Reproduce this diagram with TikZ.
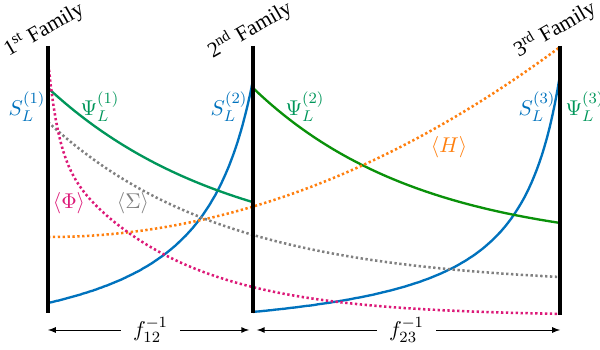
\documentclass[tikz,border=0pt]{standalone}
\usepackage{amsmath}
\usepackage{fontspec}
\setmainfont{Liberation Serif}
\usetikzlibrary{calc}

\definecolor{sblue}{RGB}{0,114,189}
\definecolor{psigreen}{RGB}{0,150,90}
\definecolor{psidark}{RGB}{10,145,10}
\definecolor{horange}{RGB}{255,127,14}
\definecolor{phimag}{RGB}{220,25,120}
\definecolor{siggray}{RGB}{128,128,128}

\tikzset{
	family/.style={line width=2pt, black},
	curve/.style={line width=1.2pt, samples=120},
	dotcurve/.style={line width=1.3pt, samples=200, dash pattern=on 1.2pt off 1.3pt},
	famlabel/.style={rotate=30, anchor=base, inner sep=0pt}
}

\begin{document}
\begin{tikzpicture}[x=0.018cm, y=-0.018cm, every node/.style={font=\fontsize{11}{13}\selectfont}]
		% Page size as in the reference
		\useasboundingbox (0,0) rectangle (600,350);
		
		% Positions of the three families
		\def\famA{48}
		\def\famB{253}
		\def\famC{560}
		
		\coordinate (F1top) at (\famA,46);
		\coordinate (F1bot) at (\famA,313);
		\coordinate (F2top) at (\famB,46);
		\coordinate (F2bot) at (\famB,313);
		\coordinate (F3top) at (\famC,46);
		\coordinate (F3bot) at (\famC,315);
		
		% Draw the blue S_L curves
		\draw[curve, sblue, domain=0:205] plot ({\famA+\x}, {303-15560*(1/(260-\x)-1/260)});
		\draw[curve, sblue, domain=0:307] plot ({\famB+\x}, {312-11620*(1/(350-\x)-1/350)});
		
		% Draw the green Psi_L curves
		\draw[curve, psigreen, domain=0:205] plot ({\famA+\x}, {88+169*(1-exp(-0.0055*\x))});
		\draw[curve, psidark, domain=0:307] plot ({\famB+\x}, {88+160.4*(1-exp(-0.006*\x))});
		
		% Draw the dotted averages <H>, <Sigma>, <Phi>
		\draw[dotcurve, horange, domain=0:512] plot ({\famA+\x}, {237-190*(\x/512)^2});
		\draw[dotcurve, siggray, domain=0:512] plot ({\famA+\x}, {285.8-163.8*exp(-0.005713*\x)});
		\draw[dotcurve, phimag, domain=0:512] plot ({\famA+\x}, {316-165*exp(-0.0085*\x)-91*exp(-0.1*\x)});
		
		% Draw the family lines
		\draw[family] (F1top) -- (F1bot);
		\draw[family] (F2top) -- (F2bot);
		\draw[family] (F3top) -- (F3bot);
		
		% Family names above the lines
		\node[famlabel] (fam1) at (47,35) {1\textsuperscript{st} Family};
		\node[famlabel] (fam2) at (\famB,35) {2\textsuperscript{nd} Family};
		\node[famlabel] (fam3) at (558,35) {3\textsuperscript{rd} Family};
		
		% Curve labels
		\node[sblue] (S1) at (27,107) {$S_L^{(1)}$};
		\node[psigreen] (P1) at (100,107) {$\Psi_L^{(1)}$};
		\node[sblue] (S2) at (229,107) {$S_L^{(2)}$};
		\node[psigreen] (P2) at (305,107) {$\Psi_L^{(2)}$};
		\node[sblue] (S3) at (537,107) {$S_L^{(3)}$};
		\node[psigreen] (P3) at (585,107) {$\Psi_L^{(3)}$};
		\node[horange] (H) at (449,147) {$\langle H\rangle$};
		\node[phimag] (Phi) at (69,203) {$\langle \Phi\rangle$};
		\node[siggray] (Sig) at (133,203) {$\langle \Sigma\rangle$};
		
		% Draw the arrows for the distances between families
		\coordinate (A1) at (\famA,330);
		\coordinate (A2) at (\famB,330);
		\coordinate (A3) at (\famC,330);
		\draw[<->, >=latex, shorten >=2pt] (A1) -- (A2) node[midway, fill=white, inner xsep=6pt] {$f_{12}^{-1}$};
		\draw[<->, >=latex, shorten <=2pt] (A2) -- (A3) node[midway, fill=white, inner xsep=6pt] {$f_{23}^{-1}$};
	\end{tikzpicture}
\end{document}
